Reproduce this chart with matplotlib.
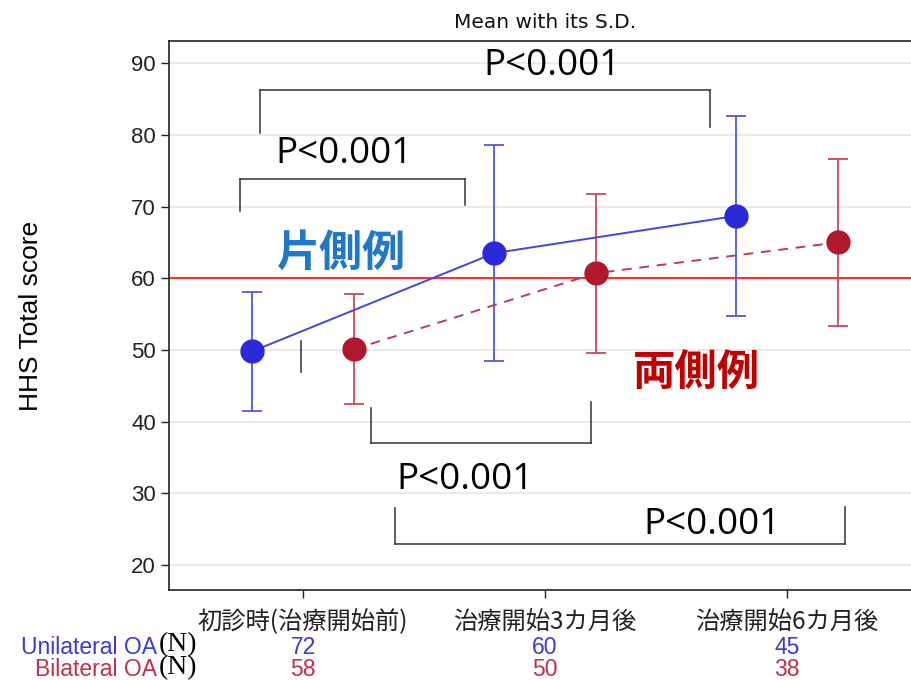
import matplotlib
matplotlib.use("Agg")
import matplotlib.pyplot as plt
from matplotlib.transforms import blended_transform_factory
import numpy as np

plt.rcParams['font.family'] = ['Liberation Sans', 'Noto Sans CJK JP', 'DejaVu Sans']

# data
periods = ["初診時(治療開始前)", "治療開始3カ月後", "治療開始6カ月後"]
uni_mean = [49.8, 63.5, 68.7]
uni_sd = [8.3, 15.1, 13.9]
bi_mean = [50.1, 60.7, 65.0]
bi_sd = [7.7, 11.1, 11.6]
uni_n = [72, 60, 45]
bi_n = [58, 50, 38]
ref_line = 60

# brackets: (x_left, x_right, y_bar, y_left_end, y_right_end, text_x, text_y)
brackets = [
    (-0.18, 1.68, 86.2, 80.2, 81.1, 1.03, 89.6),
    (-0.26, 0.67, 73.8, 69.4, 70.2, 0.17, 77.3),
    (0.28, 1.19, 37.0, 41.9, 42.7, 0.67, 31.8),
    (0.38, 2.24, 22.9, 27.9, 28.1, 1.69, 25.5),
]

W, H = 911, 680
fig = plt.figure(figsize=(W / 100, H / 100), dpi=100)
ax = fig.add_axes([169 / W, 1 - 590 / H, 1 - 169 / W, (590 - 41) / H])

x = np.arange(len(periods))
off = 0.21
blue = '#2a2ad8'
red = '#b0182c'

ax.errorbar(x - off, uni_mean, yerr=uni_sd, fmt='none', ecolor='#5555e6', elinewidth=1.3,
            capsize=7, capthick=1.3, zorder=3)
ax.errorbar(x + off, bi_mean, yerr=bi_sd, fmt='none', ecolor='#c8485c', elinewidth=1.3,
            capsize=7, capthick=1.3, zorder=3)
ax.plot(x - off, uni_mean, '-', color='#4545e0', lw=1.4, zorder=4)
ax.plot(x + off, bi_mean, '--', color='#c03a50', lw=1.4, dashes=(5, 4), zorder=4)
ax.plot(x - off, uni_mean, 'o', color=blue, ms=16.5, zorder=5)
ax.plot(x + off, bi_mean, 'o', color=red, ms=16.5, zorder=5)

ax.axhline(ref_line, color='#ff3030', lw=1.5, zorder=2)

ax.set_xlim(-0.554, 2.512)
ax.set_ylim(16.5, 93.1)
ax.set_yticks(range(20, 91, 10))
ax.set_xticks(x)
ax.set_xticklabels(periods, fontsize=17.5, family=['Noto Sans CJK JP', 'DejaVu Sans'])
ax.tick_params(axis='y', labelsize=16, length=6, width=1, colors='#222222')
ax.tick_params(axis='x', length=6, width=1, pad=8, colors='#222222')
ax.yaxis.grid(True, color='#e6e6e6', lw=1.2, zorder=0)
ax.set_axisbelow(True)
ax.spines['right'].set_visible(False)
for s in ['left', 'top', 'bottom']:
    ax.spines[s].set_color('#222222')
    ax.spines[s].set_linewidth(1.2)
ax.set_ylabel("HHS Total score", fontsize=19)
ax.yaxis.set_label_coords((43 - 169) / (W - 169), 0.5)

# brackets with p-values
for xl, xr, yb, yl, yr, tx, ty in brackets:
    ax.plot([xl, xr], [yb, yb], color='#333333', lw=1.1)
    ax.plot([xl, xl], [yb, yl], color='#333333', lw=1.1)
    ax.plot([xr, xr], [yb, yr], color='#333333', lw=1.1)
    ax.text(tx, ty, "P<0.001", fontsize=26.5, family='Open Sans', ha='center', va='center', color='black')

# stray tick mark
ax.plot([-0.008, -0.008], [46.9, 51.2], color='#333333', lw=1.1)

ax.text(0.157, 63.5, "片側例", fontsize=31, fontweight='bold', color='#1f78c8',
        family=['Noto Sans CJK JP'], ha='center', va='center')
ax.text(1.624, 46.8, "両側例", fontsize=30.5, fontweight='bold', color='#c00000',
        family=['Noto Sans CJK JP'], ha='center', va='center')

fig.text(545 / W, 1 - 22 / H, "Mean with its S.D.", fontsize=14.5, ha='center', va='center',
         family='DejaVu Sans', color='#111111')

# N rows
trans = blended_transform_factory(ax.transData, fig.transFigure)
for i in range(len(periods)):
    fig.text(x[i], 1 - 647 / H, str(uni_n[i]), transform=trans, fontsize=16.5, ha='center',
             va='center', color='#3a3ad6')
    fig.text(x[i], 1 - 670 / H, str(bi_n[i]), transform=trans, fontsize=16.5, ha='center',
             va='center', color='#c0304a')
fig.text(157 / W, 1 - 647 / H, "Unilateral OA", fontsize=16.5, ha='right', va='center', color='#3a3ad6')
fig.text(197 / W, 1 - 645 / H, "(N)", fontsize=20, ha='right', va='center', family='Liberation Serif',
         color='black')
fig.text(157 / W, 1 - 670 / H, "Bilateral OA", fontsize=16.5, ha='right', va='center', color='#c0304a')
fig.text(197 / W, 1 - 668 / H, "(N)", fontsize=20, ha='right', va='center', family='Liberation Serif',
         color='black')

fig.savefig("out.png", dpi=100)
